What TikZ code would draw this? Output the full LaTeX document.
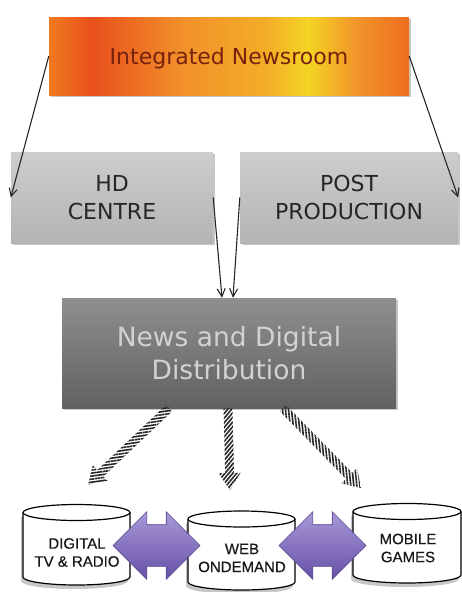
\documentclass[tikz,border=0pt]{standalone}
\usepackage{fontspec}
\setmainfont{DejaVu Sans}
\newfontfamily\drumfont[FakeBold=0.6]{Liberation Sans}
\usetikzlibrary{arrows.meta,calc,shapes.arrows,shadows,patterns.meta}

\definecolor{newsred}{HTML}{76220F}
\definecolor{boxtop}{HTML}{CDCDCD}
\definecolor{boxbot}{HTML}{B4B4B4}
\definecolor{newstop}{HTML}{8F8F8F}
\definecolor{newsbot}{HTML}{616161}
\definecolor{newstext}{HTML}{D2D2D2}
\definecolor{lilac}{HTML}{A998D8}
\definecolor{violet}{HTML}{6650A6}
\definecolor{violetedge}{HTML}{54448C}
\definecolor{stripegray}{HTML}{262626}
\definecolor{nrorange}{HTML}{F07A20}
\definecolor{nrred}{HTML}{E8501C}
\definecolor{nrmid}{HTML}{F2922A}
\definecolor{nrgold}{HTML}{F4D424}
\definecolor{nrright}{HTML}{EE6E1E}

% orange-to-gold band of the top box (stops between 25bp and 75bp)
\pgfdeclarehorizontalshading{newsroom}{100bp}{%
  color(0bp)=(nrorange);
  color(25bp)=(nrorange);
  color(31bp)=(nrred);
  color(44bp)=(nrmid);
  color(55bp)=(nrmid!60!nrgold);
  color(61bp)=(nrgold);
  color(68bp)=(nrmid);
  color(75bp)=(nrright);
  color(100bp)=(nrright)}

% striped block arrow from #1 to #2, stripes at angle #3
\newcommand\stripedarrow[3]{%
  \coordinate (neck) at ($(#2)!17pt!(#1)$);
  \fill[stripes=#3]
    ($(#1)!4.4pt!90:(#2)$) -- ($(neck)!4.4pt!90:(#2)$) --
    ($(neck)!11pt!90:(#2)$) -- (#2) --
    ($(neck)!11pt!-90:(#2)$) -- ($(neck)!4.4pt!-90:(#2)$) --
    ($(#1)!4.4pt!-90:(#2)$) -- cycle;}

% storage drum: centre x, radius, top y, bottom y, ellipse y radius
\newcommand\drum[5]{%
  \fill[black,opacity=0.22]
    ({#1-#2-2},#3+4) -- ({#1-#2-2},#4+4)
    arc[start angle=180,end angle=0,x radius=#2,y radius=#5]
    -- ({#1+#2-2},#3+4) -- cycle;
  \filldraw[fill=white,draw=black,line width=1.2pt]
    ({#1-#2},#3) -- ({#1-#2},#4)
    arc[start angle=180,end angle=0,x radius=#2,y radius=#5]
    -- ({#1+#2},#3)
    arc[start angle=0,end angle=-180,x radius=#2,y radius=#5] -- cycle;
  \draw[line width=1.2pt] ({#1-#2},#3)
    arc[start angle=180,end angle=0,x radius=#2,y radius=#5];}

\tikzset{
  softshadow/.style={drop shadow={shadow xshift=2pt,shadow yshift=-2pt,
      fill=black,opacity=0.22}},
  topbox/.style={shading=newsroom,minimum width=360pt,minimum height=78pt,
      inner sep=0pt,text=newsred,text depth=0pt,
      font=\fontsize{22}{26}\selectfont,softshadow},
  lightbox/.style={top color=boxtop,bottom color=boxbot,minimum height=91pt,
      inner sep=0pt,align=center,text=black!85,
      font=\fontsize{22}{28}\selectfont,softshadow},
  darkbox/.style={top color=newstop,bottom color=newsbot,minimum width=334pt,
      minimum height=110pt,inner sep=0pt,align=center,text=newstext,
      font=\fontsize{26.5}{33}\selectfont,softshadow},
  thinarrow/.style={line width=1.1pt,draw=black!85,
      -{Straight Barb[length=8pt,width=8pt]}},
  stripes/.style={pattern={Lines[angle=#1,distance=3pt,line width=1.6pt]},
      pattern color=stripegray},
  drumtext/.style={align=center,inner sep=0pt,text=black!90,
      font=\drumfont\fontsize{15}{18}\selectfont},
  linkarrow/.style={double arrow,double arrow head extend=13pt,
      minimum height=87pt,inner xsep=0pt,inner ysep=20.5pt,
      top color=lilac,bottom color=violet,draw=violetedge,line width=0.6pt},
}

\begin{document}
\begin{tikzpicture}[x=1pt,y=-1pt]
\useasboundingbox (0,0) rectangle (461,592);

% boxes
\node[topbox] (nr) at (229,56) {Integrated Newsroom};
\node[lightbox,minimum width=202pt] (hd) at (112,197.5) {HD\\CENTRE};
\node[lightbox,minimum width=218pt] (pp) at (349,197.5) {POST\\PRODUCTION};
\node[darkbox] (news) at (229,353) {News and Digital\\Distribution};

% thin connectors
\draw[thinarrow] (nr.west) -- (hd.west);
\draw[thinarrow] (nr.east) -- (pp.east);
\draw[thinarrow] (hd.east) -- ($(news.north)+(-7,0)$);
\draw[thinarrow] (pp.west) -- ($(news.north)+(4,0)$);

% striped distribution arrows
\coordinate (outL) at ($(news.south)+(-60,0)$);
\coordinate (outM) at ($(news.south)+(-1,0)$);
\coordinate (outR) at ($(news.south)+(54,0)$);
\coordinate (tipL) at (88,485);
\coordinate (tipM) at (230,490);
\coordinate (tipR) at (361,488);
\stripedarrow{outL}{tipL}{8}
\stripedarrow{outM}{tipM}{50}
\stripedarrow{outR}{tipR}{96}

% storage drums
\drum{76.5}{53.5}{512.5}{577}{8}
\drum{241.5}{53.5}{519}{582}{8}
\drum{407}{54}{511.5}{575}{8}
\node[drumtext] (tv) at (77,552.5) {DIGITAL\\TV \& RADIO};
\node[drumtext] (web) at (242,558) {WEB\\ONDEMAND};
\node[drumtext] (mob) at (408,548) {MOBILE\\GAMES};

% two-way links between drums
\node[linkarrow] (tvweb) at (156.5,545.5) {};
\node[linkarrow] (webmob) at (322.5,545.5) {};
\end{tikzpicture}
\end{document}
